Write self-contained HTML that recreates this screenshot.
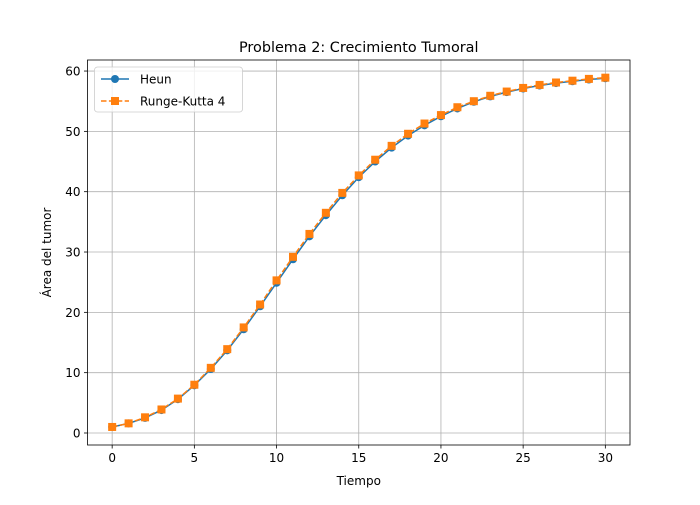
<!DOCTYPE html>
<html><head><meta charset="utf-8"><style>
body{margin:0;background:#fff}
svg{font-family:"DejaVu Sans","Liberation Sans",sans-serif}
</style></head><body>
<svg id="chart" width="700" height="500" viewBox="0 0 700 500">
<rect width="700" height="500" fill="#fff"/>
<g id="grid"></g>
<g id="ticks"></g>
<g id="series"></g>
<rect x="87.5" y="60" width="542.5" height="385" fill="none" stroke="#000" stroke-width="0.8"/>
<text x="358.75" y="52" font-size="14.4" text-anchor="middle">Problema 2: Crecimiento Tumoral</text>
<text x="358.75" y="485" font-size="12" text-anchor="middle">Tiempo</text>
<text transform="translate(51,252.5) rotate(-90)" font-size="12" text-anchor="middle">Área del tumor</text>
<g>
<rect x="94.5" y="67" width="148" height="45" rx="3" fill="#fff" fill-opacity="0.8" stroke="#ccc" stroke-width="0.8"/>
<g>
<line x1="101" y1="79" x2="129" y2="79" stroke="#1f77b4" stroke-width="1.5"/>
<circle cx="115" cy="79" r="4" fill="#1f77b4"/>
<text x="140" y="83.5" font-size="12">Heun</text></g>
<g>
<line x1="101" y1="101" x2="129" y2="101" stroke="#ff7f0e" stroke-width="1.5" stroke-dasharray="5.5,2.4"/>
<rect x="111" y="97" width="8" height="8" fill="#ff7f0e"/>
<text x="140" y="105.5" font-size="12">Runge-Kutta 4</text></g>
</g>
</svg>
<script>
const times=[0,1,2,3,4,5,6,7,8,9,10,11,12,13,14,15,16,17,18,19,20,21,22,23,24,25,26,27,28,29,30];
const heun=[1,1.6,2.5,3.8,5.6,7.9,10.6,13.7,17.2,21.0,24.9,28.8,32.6,36.1,39.4,42.4,45.0,47.3,49.3,51.0,52.5,53.8,54.9,55.8,56.5,57.1,57.6,58.0,58.3,58.6,58.8];
const rk4=[1,1.6,2.6,3.9,5.7,8.0,10.8,13.9,17.5,21.3,25.3,29.2,33.0,36.5,39.8,42.7,45.3,47.6,49.6,51.3,52.7,54.0,55.0,55.9,56.6,57.2,57.7,58.1,58.4,58.7,58.9];
const xTicks=[0,5,10,15,20,25,30];
const yTicks=[0,10,20,30,40,50,60];
const NS='http://www.w3.org/2000/svg';
const L=87.5,R=630,T=60,B=445,xmin=-1.5,xmax=31.5,ymin=-1.99,ymax=61.83;
const sx=v=>L+(v-xmin)/(xmax-xmin)*(R-L);
const sy=v=>B-(v-ymin)/(ymax-ymin)*(B-T);
function mk(tag,at,parent){const e=document.createElementNS(NS,tag);for(const k in at)e.setAttribute(k,at[k]);parent.appendChild(e);return e;}
const grid=document.getElementById('grid'),ticks=document.getElementById('ticks'),series=document.getElementById('series');
xTicks.forEach(t=>{const x=sx(t);
const g=mk('line',{x1:x,x2:x,y1:T,y2:B,stroke:'#b0b0b0','stroke-width':0.8},grid);


mk('line',{x1:x,x2:x,y1:B,y2:B+3.5,stroke:'#000','stroke-width':0.8},ticks);
const tx=mk('text',{x:x,y:B+17,'font-size':12,'text-anchor':'middle'},ticks);tx.textContent=t;

});
yTicks.forEach(t=>{const y=sy(t);
const g=mk('line',{x1:L,x2:R,y1:y,y2:y,stroke:'#b0b0b0','stroke-width':0.8},grid);


mk('line',{x1:L-3.5,x2:L,y1:y,y2:y,stroke:'#000','stroke-width':0.8},ticks);
const tx=mk('text',{x:L-7,y:y+4.5,'font-size':12,'text-anchor':'end'},ticks);tx.textContent=t;

});
const p1=mk('polyline',{points:times.map((t,i)=>sx(t)+','+sy(heun[i])).join(' '),fill:'none',stroke:'#1f77b4','stroke-width':1.5},series);


times.forEach((t,i)=>{const c=mk('circle',{cx:sx(t),cy:sy(heun[i]),r:4,fill:'#1f77b4'},series);

});
const p2=mk('polyline',{points:times.map((t,i)=>sx(t)+','+sy(rk4[i])).join(' '),fill:'none',stroke:'#ff7f0e','stroke-width':1.5,'stroke-dasharray':'5.5,2.4'},series);


times.forEach((t,i)=>{const r=mk('rect',{x:sx(t)-4,y:sy(rk4[i])-4,width:8,height:8,fill:'#ff7f0e'},series);

});
</script>
</body></html>
